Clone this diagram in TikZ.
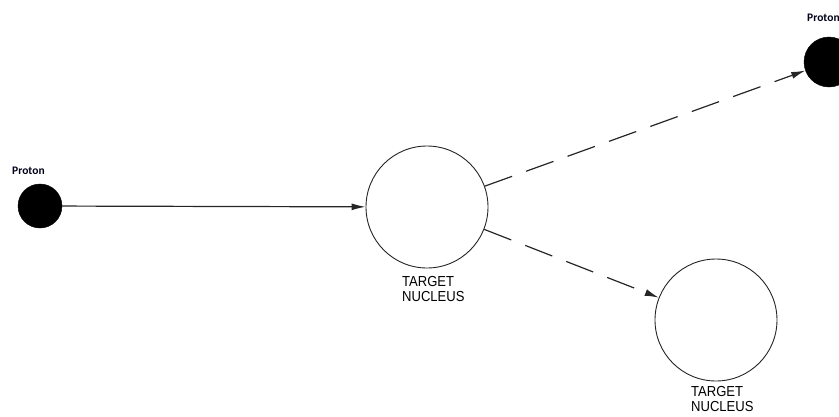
\documentclass[tikz,border=0pt]{standalone}
\usepackage{fontspec}
\setmainfont{Liberation Sans}
\newfontfamily\protonfont{Carlito}
\newfontfamily\labelfont[FakeStretch=0.9]{Liberation Sans}
\usetikzlibrary{arrows.meta}
\begin{document}
\begin{tikzpicture}[x=1pt,y=-1pt,
  proton/.style={circle,fill=black,draw=black,inner sep=0pt,minimum size=#1},
  nucleus/.style={circle,draw=black!85,line width=0.9pt,fill=white,inner sep=0pt,minimum size=122pt},
  plabel/.style={font=\protonfont\bfseries\fontsize{11.5}{12}\selectfont,text=black!90!blue,inner sep=0pt},
  nlabel/.style={font=\labelfont\fontsize{14.5}{15}\selectfont,align=left,inner sep=0pt,anchor=north west},
  track/.style={draw=black!85,line width=1.2pt,-{Latex[length=14pt,width=7pt]}},
  dashtrack/.style={track,dash pattern=on 29pt off 15pt}
]
\useasboundingbox (0,0) rectangle (839,416);
\clip (0,0) rectangle (839,416);
% particles
\node[proton=44pt] (p1) at (40,206) {};
\node[proton=50pt] (p2) at (829,62) {};
\node[nucleus] (n1) at (427,207) {};
\node[nucleus] (n2) at (716,320) {};
% labels
\node[plabel,anchor=base west] (l1) at (12,174) {Proton};
\node[plabel,anchor=base west] (l2) at (807,21) {Proton};
\node[nlabel] (t1) at (402,276) {TARGET\\NUCLEUS};
\node[nlabel] (t2) at (691,386) {TARGET\\NUCLEUS};
% tracks
\draw[track] (p1) -- (n1);
\draw[dashtrack] (n1) -- (p2);
\draw[dashtrack] (n1) -- (n2);
\end{tikzpicture}
\end{document}
